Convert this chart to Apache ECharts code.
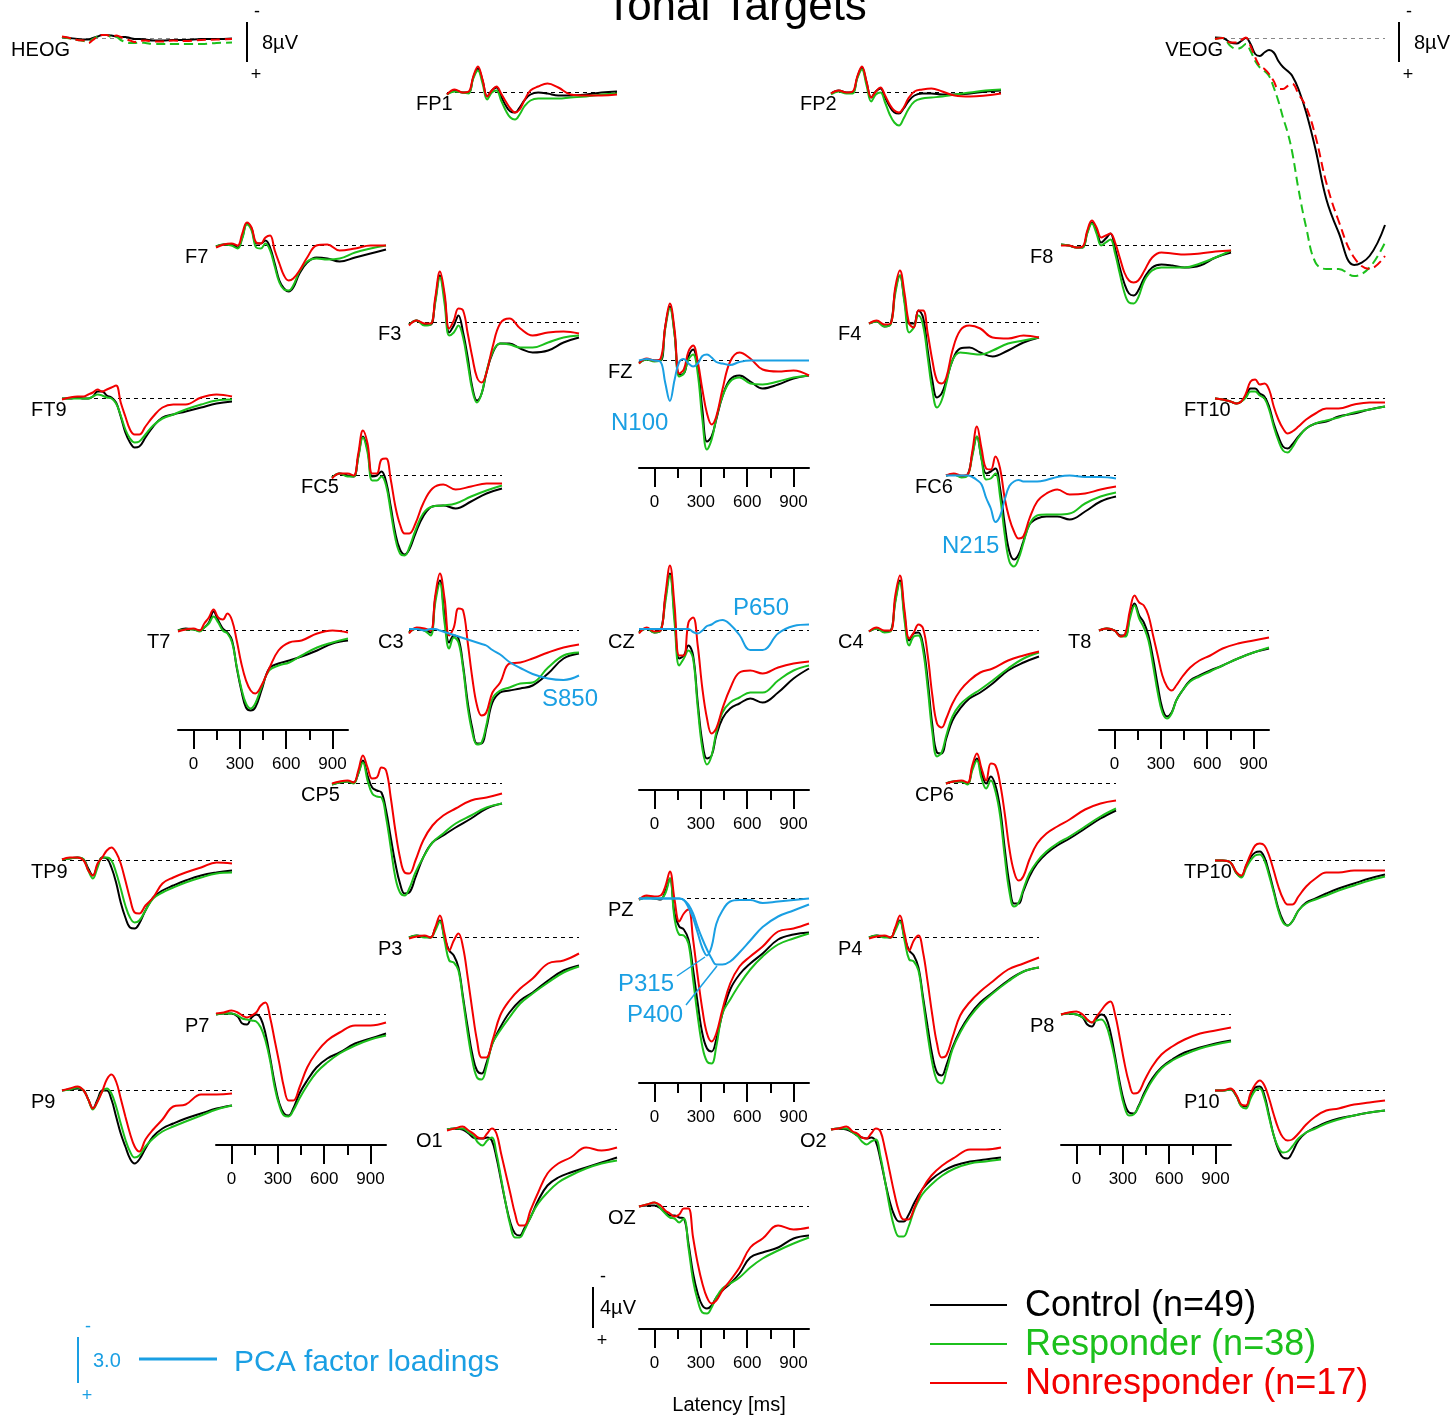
<!DOCTYPE html>
<html>
<head>
<meta charset="utf-8">
<script src="https://cdn.jsdelivr.net/npm/echarts@6/dist/echarts.min.js"></script>
<style>
  html, body { margin: 0; padding: 0; background: #fff; }
  #chart { width: 1456px; height: 1416px; }
</style>
</head>
<body>
<div id="chart"></div>
<script>
// sample latencies (ms) shared by every trace
const TIME_MS = [-100, -50, 0, 40, 70, 100, 130, 160, 190, 220, 250, 280, 310, 340, 370, 400, 440, 490, 550, 620, 700, 800, 900, 1000]

// grand averages in µV (negative up): [control, responder, nonresponder]
const FP1 = [
  [0.2, -0.2, 0, 0, -1.5, -2.4, -1.2, 0.4, -0.2, -0.5, 0.4, 1.3, 1.9, 2.0, 1.5, 0.8, 0.2, 0, 0.1, 0.3, 0.3, 0.2, 0, -0.1],
  [0.2, -0.1, 0, 0.1, -1.4, -2.2, -0.9, 0.7, 0, -0.2, 0.8, 1.8, 2.5, 2.7, 2.2, 1.4, 0.8, 0.6, 0.6, 0.6, 0.5, 0.4, 0.2, 0.1],
  [0.2, -0.3, 0, -0.1, -1.6, -2.6, -1.3, 0.4, -0.2, -0.6, 0.1, 0.9, 1.6, 2.0, 1.7, 0.8, -0.2, -0.6, -0.9, -0.5, 0.2, 0.3, 0.3, 0.2]
]
const FP2 = [
  [0.1, -0.2, 0, 0, -1.5, -2.5, -1.0, 0.5, -0.1, -0.4, 0.5, 1.4, 2.0, 2.1, 1.6, 0.9, 0.3, 0.1, 0.1, 0.2, 0.2, 0.1, -0.1, -0.2],
  [0.2, -0.1, 0.1, 0.1, -1.4, -2.3, -0.7, 0.9, 0.2, 0, 1.0, 2.2, 3.0, 3.3, 2.6, 1.7, 0.9, 0.6, 0.5, 0.4, 0.2, 0, -0.2, -0.3],
  [0.1, -0.2, 0, -0.1, -1.6, -2.6, -1.1, 0.5, -0.1, -0.5, 0.3, 1.2, 1.8, 2.0, 1.5, 0.6, -0.1, -0.3, -0.4, -0.1, 0.3, 0.4, 0.3, 0.1]
]
const F7 = [
  [0.1, -0.1, -0.1, 0.2, -0.8, -2.2, -1.7, -0.2, -0.2, -0.5, 0.2, 1.8, 3.5, 4.3, 4.6, 4.2, 2.8, 1.7, 1.2, 1.3, 1.6, 1.2, 0.8, 0.4],
  [0.1, -0.1, 0, 0.3, -0.7, -2.1, -1.5, 0.2, 0.3, -0.2, 0.5, 2.1, 3.7, 4.4, 4.5, 4.0, 2.6, 1.6, 1.3, 1.4, 1.3, 0.7, 0.3, 0],
  [0.2, -0.1, -0.2, 0, -1.2, -2.3, -1.8, -0.3, -0.2, -0.8, -1.0, 0.5, 1.8, 3.0, 3.5, 3.3, 2.5, 1.2, 0, -0.1, 0.5, 0.3, 0, 0]
]
const F8 = [
  [-0.1, 0, 0.2, 0.2, -1.3, -2.3, -1.5, -0.3, -0.7, -1.2, 0.3, 2.2, 3.8, 4.8, 5.0, 4.5, 3.2, 2.2, 1.9, 2.0, 2.2, 2.0, 1.2, 0.7],
  [-0.1, 0, 0.2, 0.2, -1.2, -2.2, -1.2, 0, -0.3, -0.6, 0.8, 2.8, 4.7, 5.7, 5.8, 5.2, 3.5, 2.5, 2.2, 2.2, 2.2, 1.8, 1.2, 0.5],
  [0, 0, 0.2, 0.1, -1.5, -2.5, -1.8, -0.8, -1.0, -1.2, -0.3, 1.2, 2.7, 3.5, 3.7, 3.5, 2.5, 1.2, 0.7, 0.8, 0.9, 0.8, 0.6, 0.5]
]
const F3 = [
  [0.2, -0.2, 0.2, 0.2, -2.2, -4.7, -2.5, 1.0, 0.3, -0.7, 1.0, 3.5, 6.5, 7.8, 7.1, 5.1, 3.1, 2.1, 2.1, 2.6, 3.0, 2.8, 2.0, 1.5],
  [0.2, -0.2, 0.3, 0.2, -2.0, -4.5, -1.9, 1.3, 1.0, 0.3, 1.5, 4.1, 6.8, 8.0, 7.1, 5.0, 3.0, 2.1, 2.2, 2.5, 2.5, 2.0, 1.5, 1.3],
  [0.3, -0.2, 0.1, 0.1, -2.5, -5.1, -2.9, 0.6, -0.2, -1.4, -1.2, 1.1, 3.5, 5.5, 6.0, 5.1, 2.5, 0.1, -0.4, 0.6, 1.3, 1.0, 0.9, 1.1]
]
const F4 = [
  [0.1, -0.1, 0.4, 0.1, -3.2, -4.7, -2.2, 0.1, 0.1, -1.2, -0.5, 2.8, 5.8, 7.5, 7.1, 5.8, 3.8, 2.6, 2.5, 3.0, 3.4, 2.8, 2.0, 1.5],
  [0.1, -0.1, 0.4, 0.2, -2.9, -4.7, -1.9, 1.0, 0.5, -0.7, 0.3, 3.5, 6.8, 8.5, 7.8, 6.1, 3.8, 3.0, 3.1, 3.2, 2.8, 2.1, 1.8, 1.5],
  [0.1, -0.2, 0.2, 0.1, -3.5, -5.2, -2.9, 0.1, 0.5, -1.2, -1.2, 1.1, 3.8, 5.8, 6.1, 5.5, 2.8, 0.8, 0.3, 0.6, 1.5, 1.6, 1.3, 1.5]
]
const FZ = [
  [0.2, -0.1, 0, 0, -3.4, -5.4, -2.7, 1.4, 1.3, -0.4, -1.1, 0.6, 4.9, 8.1, 7.6, 5.9, 3.6, 1.9, 1.5, 2.1, 2.8, 2.4, 1.8, 1.5],
  [0.3, -0.1, 0.1, 0, -3.2, -5.2, -2.6, 1.6, 1.3, -0.1, -0.6, 1.3, 5.9, 8.9, 7.9, 5.8, 3.6, 2.1, 1.7, 2.3, 2.4, 2.1, 1.7, 1.5],
  [0.3, -0.2, 0, -0.2, -3.4, -5.7, -3.1, 1.3, 0.9, -0.9, -1.5, 0.1, 2.9, 5.3, 6.4, 5.6, 2.9, 0.1, -0.8, -0.2, 0.9, 1.1, 1.0, 1.5]
]
const FT9 = [
  [0, 0, -0.1, 0, 0, -0.2, -0.7, -0.7, -0.3, -0.1, 0.4, 1.8, 3.4, 4.4, 4.9, 4.8, 3.9, 2.8, 1.9, 1.6, 1.3, 0.9, 0.5, 0.3],
  [0, 0, 0, 0, 0, -0.2, -0.4, -0.3, -0.1, 0, 0.5, 1.7, 3.1, 4.0, 4.4, 4.3, 3.6, 2.7, 2.0, 1.6, 1.1, 0.6, 0.2, 0.1],
  [0.1, -0.1, -0.2, -0.2, -0.4, -0.6, -0.9, -0.7, -0.9, -1.1, -1.3, 0.4, 1.8, 3.1, 3.6, 3.6, 2.8, 1.8, 0.9, 0.6, 0.6, -0.1, -0.4, -0.2]
]
const FT10 = [
  [0, 0.1, 0.3, 0.5, 0.3, -0.2, -1.0, -1.0, -0.5, -0.2, 0.8, 2.5, 3.8, 4.8, 5.0, 4.6, 3.8, 3.0, 2.5, 2.3, 1.8, 1.5, 1.1, 0.8],
  [0, 0.1, 0.3, 0.5, 0.3, -0.1, -0.7, -0.7, -0.3, 0, 1.1, 2.8, 4.2, 5.2, 5.4, 4.9, 3.9, 3.0, 2.5, 2.2, 1.9, 1.4, 1.1, 0.8],
  [0, 0.1, 0.3, 0.5, 0.3, -0.5, -1.7, -1.9, -1.4, -1.5, -0.9, 0.8, 2.1, 3.0, 3.5, 3.3, 2.8, 2.1, 1.5, 1.0, 1.0, 0.6, 0.4, 0.4]
]
const FC5 = [
  [0.2, -0.2, 0, 0.1, -1.9, -3.9, -2.6, 0.1, 0, -0.4, 0.6, 3.1, 5.8, 7.4, 7.9, 7.4, 5.8, 4.1, 3.1, 3.0, 3.3, 2.6, 1.8, 1.3],
  [0.2, -0.2, 0.1, 0.1, -1.8, -3.8, -2.3, 0.5, 0.5, 0.1, 1.0, 3.6, 6.3, 7.8, 8.0, 7.2, 5.5, 3.8, 3.1, 3.0, 2.8, 2.1, 1.5, 1.0],
  [0.3, -0.2, -0.2, 0, -2.2, -4.5, -3.2, -0.2, -0.2, -1.6, -1.7, 0.4, 3.1, 4.9, 5.8, 5.8, 4.8, 2.8, 1.3, 0.9, 1.4, 1.1, 0.8, 0.8]
]
const FC6 = [
  [0, -0.1, 0.1, -0.1, -2.1, -3.9, -1.7, -0.2, -0.4, -0.7, 1.3, 4.9, 7.6, 8.4, 7.9, 6.6, 4.9, 4.3, 4.1, 4.1, 4.4, 3.6, 2.6, 2.1],
  [0, -0.1, 0.2, 0, -1.9, -3.9, -1.6, 0.4, 0.3, -0.2, 2.1, 5.9, 8.6, 9.1, 8.3, 6.8, 4.9, 4.0, 3.9, 3.9, 3.8, 2.8, 2.1, 1.7],
  [0, -0.2, 0, -0.1, -2.4, -4.9, -2.7, -0.7, -0.6, -1.9, -0.7, 2.3, 4.3, 5.6, 6.3, 6.1, 4.3, 2.6, 1.8, 1.4, 1.9, 1.8, 1.4, 1.1]
]
const T7 = [
  [0, -0.2, -0.1, 0, -0.3, -0.8, -1.9, -1.0, -0.2, 0.2, 1.0, 3.7, 6.0, 7.7, 8.0, 7.7, 6.0, 3.8, 3.3, 3.0, 2.6, 2.0, 1.3, 1.0],
  [0, -0.1, -0.1, 0.1, -0.3, -0.7, -1.4, -0.8, 0, 0.3, 1.2, 3.6, 5.8, 7.3, 7.8, 7.3, 5.7, 4.0, 3.5, 3.2, 2.5, 1.7, 1.2, 0.8],
  [0.1, -0.1, -0.2, 0, -0.7, -1.3, -2.1, -1.3, -1.1, -1.7, -1.0, 1.0, 3.3, 5.0, 6.0, 6.3, 5.5, 3.8, 2.0, 1.2, 1.0, 0.3, 0, 0.2]
]
const C3 = [
  [0.2, -0.2, 0, 0.2, -3.2, -5.0, -1.5, 1.2, 0.5, 0.8, 3.5, 7.2, 9.8, 11.3, 11.3, 9.8, 7.2, 6.2, 6.0, 5.8, 5.5, 4.3, 2.8, 2.3],
  [0.2, -0.2, 0, 0.5, -2.8, -4.7, -0.8, 1.8, 0.7, 1.2, 3.8, 7.7, 10.2, 11.4, 11.2, 9.5, 6.8, 6.0, 5.7, 5.3, 5.2, 3.7, 2.5, 2.2],
  [0.3, -0.3, -0.2, 0, -3.5, -5.7, -3.2, 0.5, -0.3, -2.2, -2.0, 1.2, 4.8, 7.5, 8.5, 8.2, 6.2, 5.2, 3.3, 3.2, 2.8, 2.2, 1.7, 1.4]
]
const CZ = [
  [0.2, -0.2, 0.2, 0, -3.2, -5.7, -1.5, 2.8, 2.5, 1.5, 2.5, 7.2, 11.2, 12.8, 12.5, 10.5, 8.8, 7.8, 7.3, 6.8, 7.2, 6.2, 4.8, 3.8],
  [0.2, -0.2, 0.2, 0, -2.8, -5.5, -0.8, 3.5, 2.8, 2.0, 2.8, 7.7, 11.8, 13.4, 12.5, 10.2, 8.2, 7.2, 6.7, 6.2, 6.2, 5.0, 4.0, 3.5],
  [0.3, -0.3, 0.1, 0, -3.5, -6.5, -2.5, 2.5, 2.5, -0.8, -1.3, 1.5, 5.8, 8.8, 10.3, 9.8, 7.8, 5.8, 4.2, 4.0, 4.3, 3.7, 3.3, 3.1]
]
const C4 = [
  [0.1, -0.2, 0.1, 0, -3.0, -5.0, -1.5, 1.0, 0.3, 0.2, 1.5, 5.0, 9.5, 12.2, 12.3, 10.8, 9.0, 7.8, 6.8, 6.2, 5.3, 4.0, 3.2, 2.6],
  [0.1, -0.2, 0.2, 0.1, -2.8, -4.8, -1.0, 1.5, 0.6, 0.5, 2.0, 5.8, 10.2, 12.6, 12.2, 10.5, 8.6, 7.4, 6.6, 5.9, 5.0, 3.8, 2.8, 2.2],
  [0.1, -0.3, 0, 0, -3.5, -5.5, -2.0, 0.8, 0.2, -0.6, -0.2, 2.5, 6.5, 9.3, 9.7, 8.8, 7.3, 6.0, 5.0, 4.2, 3.8, 3.0, 2.5, 2.1]
]
const T8 = [
  [0, -0.2, 0, 0.5, 0.5, -1.5, -2.7, -1.5, -0.8, 0.5, 2.8, 5.5, 7.8, 8.6, 8.2, 7.0, 6.0, 5.0, 4.5, 4.0, 3.5, 2.8, 2.2, 1.8],
  [0, -0.2, 0, 0.6, 0.6, -1.2, -2.5, -1.2, -0.3, 1.0, 3.5, 6.2, 8.2, 8.8, 8.3, 7.0, 6.0, 5.1, 4.6, 4.1, 3.5, 2.8, 2.2, 1.7],
  [0, -0.2, 0, 0.6, 0.3, -2.0, -3.5, -2.8, -2.5, -1.5, 0.5, 2.5, 4.5, 5.6, 6.0, 5.5, 4.6, 3.7, 3.0, 2.5, 1.8, 1.3, 1.0, 0.7]
]
const CP5 = [
  [0.1, -0.1, -0.2, -0.1, -1.0, -2.3, -0.8, 0.4, 0.7, 0.9, 2.7, 5.4, 8.0, 10.0, 11.0, 10.9, 9.4, 7.4, 5.9, 5.2, 4.4, 3.5, 2.5, 2.0],
  [0.1, -0.1, -0.2, 0, -1.0, -2.1, -0.3, 1.0, 1.3, 1.4, 3.4, 6.4, 9.4, 10.9, 11.2, 10.5, 8.9, 7.4, 5.9, 5.0, 4.0, 3.2, 2.4, 2.0],
  [0, -0.2, -0.3, -0.1, -1.3, -2.8, -1.6, -0.5, -0.6, -1.6, -1.3, 1.4, 4.7, 7.4, 8.9, 9.0, 7.7, 5.7, 4.2, 3.2, 2.5, 1.7, 1.4, 1.0]
]
const CP6 = [
  [0, -0.2, -0.2, 0, -1.5, -2.5, -1.0, 0, -0.7, 0.2, 2.5, 6.5, 10.0, 12.0, 12.0, 10.8, 9.3, 8.0, 7.0, 6.2, 5.5, 4.5, 3.5, 2.7],
  [0, -0.2, -0.2, 0.1, -1.3, -2.3, -0.5, 0.5, -0.3, 0.8, 3.2, 7.3, 10.8, 12.3, 11.9, 10.6, 9.0, 7.8, 6.8, 6.0, 5.3, 4.3, 3.3, 2.5],
  [0, -0.2, -0.3, -0.1, -1.8, -3.0, -1.5, -0.3, -2.0, -1.8, 0, 3.0, 6.5, 8.8, 9.7, 9.3, 7.6, 6.0, 5.0, 4.3, 3.6, 2.6, 2.0, 1.7]
]
const TP9 = [
  [-0.1, -0.2, -0.3, -0.1, 0.8, 1.5, 0.5, -0.3, -0.2, 0.7, 2.2, 4.2, 5.7, 6.7, 6.8, 6.3, 5.0, 3.7, 3.0, 2.5, 2.0, 1.5, 1.2, 1.0],
  [-0.1, -0.2, -0.3, -0.1, 1.0, 1.8, 0.7, -0.3, -0.3, 0, 1.2, 2.8, 4.5, 5.7, 6.2, 6.0, 5.0, 3.8, 3.2, 2.7, 2.2, 1.7, 1.3, 1.2],
  [-0.1, -0.3, -0.3, 0, 1.0, 1.5, 0.3, -0.3, -1.0, -1.3, -0.8, 0.3, 2.0, 3.8, 5.2, 5.3, 4.5, 3.7, 2.3, 1.7, 1.2, 0.7, 0.2, 0.3]
]
const TP10 = [
  [0, 0, 0.2, 1.3, 1.6, 0.6, -0.3, -0.8, -0.9, -0.3, 1.2, 3.0, 4.8, 6.0, 6.5, 6.1, 5.0, 4.2, 3.8, 3.3, 2.8, 2.3, 1.8, 1.4],
  [0, 0, 0.2, 1.3, 1.7, 0.8, 0, -0.5, -0.6, 0, 1.5, 3.2, 5.0, 6.2, 6.5, 6.1, 5.0, 4.3, 3.9, 3.5, 3.0, 2.5, 2.0, 1.6],
  [0, 0, 0.2, 1.2, 1.5, 0.5, -0.6, -1.5, -1.7, -1.5, -0.5, 1.0, 2.6, 3.8, 4.4, 4.4, 3.6, 2.6, 1.8, 1.2, 1.2, 1.0, 1.0, 1.0]
]
const PZ = [
  [0.1, -0.1, 0, 0.1, -0.7, -2.0, 1.5, 2.8, 3.1, 4.1, 7.1, 10.5, 13.5, 15.0, 15.3, 14.1, 11.5, 9.1, 7.6, 6.5, 5.5, 4.1, 3.6, 3.4],
  [0.1, -0.1, 0, 0, -0.5, -2.0, 2.0, 3.6, 3.7, 4.5, 8.1, 11.8, 14.8, 16.3, 16.5, 14.8, 11.5, 10.1, 8.6, 7.1, 5.8, 4.6, 4.0, 3.5],
  [0.1, -0.3, -0.2, -0.3, -1.2, -2.7, 0.1, 2.3, 1.5, 1.1, 4.1, 7.8, 11.1, 13.5, 14.3, 13.5, 11.1, 8.5, 6.8, 5.8, 4.8, 3.3, 3.0, 2.5]
]
const P3 = [
  [0, -0.2, -0.1, 0, -0.9, -1.7, 0, 1.3, 1.8, 3.0, 6.0, 9.0, 11.7, 13.3, 13.6, 12.6, 10.6, 9.0, 7.5, 6.3, 5.5, 4.3, 3.3, 2.8],
  [0, -0.2, 0, 0, -0.7, -1.6, 0.3, 2.3, 2.5, 3.3, 6.3, 9.6, 12.3, 14.0, 14.2, 13.0, 10.6, 9.3, 8.0, 6.6, 5.6, 4.5, 3.5, 2.9],
  [0.1, -0.1, -0.2, 0, -1.0, -2.2, -0.4, 1.3, 0.3, -0.4, 1.0, 4.0, 7.3, 10.3, 12.0, 12.0, 10.3, 7.8, 6.3, 5.1, 4.1, 2.6, 2.3, 1.6]
]
const P4 = [
  [0, -0.2, -0.1, 0, -0.9, -1.7, 0, 1.3, 1.8, 3.0, 6.0, 9.0, 11.8, 13.5, 13.8, 12.8, 11.0, 9.3, 7.8, 6.5, 5.5, 4.3, 3.4, 3.0],
  [0, -0.2, 0, 0, -0.7, -1.6, 0.3, 2.2, 2.4, 3.3, 6.4, 9.8, 12.6, 14.3, 14.6, 13.4, 11.2, 9.5, 8.0, 6.7, 5.6, 4.4, 3.4, 3.0],
  [0.1, -0.1, -0.2, 0, -1.0, -2.2, -0.4, 1.3, 0.3, -0.2, 1.5, 4.5, 7.8, 10.6, 12.0, 11.8, 10.0, 7.8, 6.5, 5.4, 4.4, 3.2, 2.6, 2.0]
]
const P7 = [
  [0, -0.1, -0.1, 0.2, 0.9, 1.0, 0.3, 0, 0.4, 1.9, 4.3, 6.9, 8.9, 9.9, 10.1, 9.4, 7.9, 6.6, 5.3, 4.4, 3.8, 2.9, 2.4, 1.9],
  [0, -0.1, -0.1, 0.1, 0.4, 0.5, 0.6, 0.7, 1.3, 2.6, 4.6, 7.3, 9.1, 10.1, 10.2, 9.6, 8.4, 7.1, 5.8, 4.8, 3.9, 3.1, 2.5, 2.1],
  [-0.1, -0.2, -0.4, -0.2, 0.1, 0.3, 0.1, -0.2, -0.9, -1.2, 0.3, 2.6, 4.9, 7.3, 8.6, 8.6, 7.3, 5.3, 3.8, 2.6, 1.8, 1.1, 1.1, 0.8]
]
const P8 = [
  [0, -0.1, 0, 0.3, 1.0, 1.2, 0.4, 0, 0.3, 1.8, 4.2, 6.8, 8.8, 9.8, 9.9, 9.2, 7.8, 6.4, 5.3, 4.5, 3.8, 3.3, 2.9, 2.6],
  [0, -0.1, 0, 0.3, 0.6, 0.8, 0.6, 0.5, 1.0, 2.5, 4.6, 7.2, 9.2, 10.1, 10.0, 9.3, 8.0, 6.6, 5.4, 4.6, 4.0, 3.4, 3.0, 2.7],
  [0, -0.2, -0.3, 0, 0.5, 0.8, 0.2, -0.4, -1.0, -1.3, 0, 2.3, 4.8, 6.8, 7.9, 7.8, 6.6, 5.2, 4.0, 3.2, 2.5, 1.9, 1.6, 1.3]
]
const P9 = [
  [0, -0.1, -0.2, 0, 0.9, 1.8, 0.9, 0, 0, 0.9, 2.6, 4.3, 5.6, 6.8, 7.3, 6.9, 5.8, 4.6, 3.8, 3.3, 2.8, 2.3, 1.8, 1.5],
  [0, -0.1, -0.3, 0, 0.9, 1.9, 1.1, 0.1, -0.2, 0.3, 1.6, 3.3, 4.9, 6.1, 6.7, 6.5, 5.6, 4.8, 4.1, 3.6, 3.1, 2.5, 1.9, 1.5],
  [0, -0.2, -0.4, 0, 0.9, 1.8, 1.1, 0.1, -1.1, -1.6, -0.9, 0.8, 2.6, 4.3, 5.6, 6.1, 4.9, 3.9, 2.9, 1.6, 1.4, 0.4, 0.4, 0.3]
]
const P10 = [
  [0, 0, -0.1, 0.6, 1.5, 1.6, 0.5, -0.3, -0.4, 0.5, 2.5, 4.5, 5.9, 6.7, 6.8, 6.2, 5.0, 4.2, 3.7, 3.2, 2.8, 2.5, 2.2, 2.0],
  [0, 0, -0.1, 0.6, 1.6, 1.8, 0.8, 0, -0.2, 0.8, 2.7, 4.5, 5.7, 6.2, 6.1, 5.6, 4.8, 4.2, 3.8, 3.3, 2.9, 2.5, 2.2, 2.0],
  [0, 0, -0.2, 0.5, 1.4, 1.5, 0.3, -0.6, -1.0, -0.5, 0.8, 2.4, 3.8, 4.7, 5.0, 4.9, 4.3, 3.4, 2.6, 2.0, 1.8, 1.4, 1.2, 1.0]
]
const O1 = [
  [0, -0.1, 0, 0.4, 0.8, 0.9, 0.9, 0.8, 1.1, 2.8, 5.1, 7.4, 9.3, 10.4, 10.6, 9.9, 8.8, 7.1, 5.6, 4.8, 4.3, 3.8, 3.3, 2.8],
  [0, -0.1, -0.1, 0.3, 0.6, 1.3, 1.6, 1.1, 0.8, 2.4, 4.9, 7.4, 9.6, 10.8, 10.8, 10.1, 8.8, 7.4, 6.3, 5.3, 4.6, 3.9, 3.4, 3.1],
  [0.1, -0.1, -0.3, 0.1, 0.4, 0.8, 0.9, 0.4, -0.1, 0.4, 2.4, 4.4, 6.4, 8.4, 9.6, 9.6, 8.1, 6.3, 4.4, 3.4, 2.8, 1.8, 2.1, 1.8]
]
const O2 = [
  [0, -0.1, 0, 0.3, 0.6, 0.8, 0.9, 0.8, 1.2, 3.0, 5.2, 7.2, 8.6, 9.2, 9.2, 8.6, 7.3, 6.0, 5.0, 4.2, 3.6, 3.2, 3.0, 2.8],
  [0, -0.1, -0.1, 0.3, 0.6, 1.2, 1.5, 1.2, 1.0, 2.7, 5.2, 7.8, 9.8, 10.7, 10.7, 9.8, 8.0, 6.5, 5.5, 4.6, 3.9, 3.4, 3.2, 3.0],
  [0, -0.1, -0.3, 0.2, 0.4, 0.8, 0.9, 0.4, -0.1, 0.2, 2.0, 4.2, 6.4, 8.2, 9.0, 9.0, 7.8, 6.0, 4.6, 3.6, 2.8, 2.0, 2.0, 1.8]
]
const OZ = [
  [0, -0.1, -0.1, 0.2, 0.6, 0.9, 0.9, 1.1, 1.2, 3.7, 6.7, 8.7, 9.9, 10.2, 9.9, 9.1, 8.4, 7.7, 6.7, 5.1, 4.6, 4.1, 3.2, 2.9],
  [0, -0.2, -0.4, 0.2, 0.7, 1.1, 1.2, 1.6, 1.2, 4.1, 7.4, 9.4, 10.6, 10.7, 10.1, 9.1, 8.2, 7.7, 7.1, 6.1, 5.2, 4.4, 3.7, 3.1],
  [0, -0.2, -0.4, -0.1, 0.4, 0.7, 1.0, 0.8, 0.2, 0.2, 3.1, 5.7, 7.7, 9.1, 9.7, 9.4, 8.4, 7.4, 6.1, 4.1, 3.2, 1.9, 2.3, 2.1]
]
// eye channels, µV on a coarser scale
const HEOG = [
  [-0.3, -0.1, 0.1, 0.2, 0.2, -0.1, -0.4, -0.7, -0.7, -0.6, -0.4, -0.3, -0.3, -0.1, 0.1, 0.1, 0.2, 0.4, 0.4, 0.3, 0.3, 0.1, 0.1, 0],
  [-0.3, 0, 0.3, 0.5, 0.6, 0.1, -0.4, -0.7, -0.7, -0.3, -0.3, 0.3, 0.7, 0.9, 0.9, 0.8, 0.9, 1.1, 1.1, 1.1, 1.1, 1.1, 0.9, 0.8],
  [-0.4, -0.1, 0.3, 0.4, 0.9, 0.3, -0.4, -0.7, -0.7, -0.4, -0.6, -0.3, 0.1, 0.4, 0.7, 0.5, 0.4, 0.6, 0.6, 0.4, 0.5, 0.3, 0.2, 0.1]
]
const VEOG = [
  [-0.2, -0.1, 0.8, 1.0, 0.5, -0.1, 1.1, 3.1, 3.5, 2.8, 2.3, 2.8, 4.5, 5.7, 6.5, 7.5, 10.1, 14.8, 22.1, 32.1, 38.8, 45.3, 43.5, 37.3],
  [0.1, -0.1, 1.5, 2.1, 1.8, 1.1, 2.5, 4.5, 5.8, 6.5, 7.5, 9.8, 12.5, 15.8, 18.8, 22.8, 30.1, 37.8, 44.8, 46.1, 46.1, 47.5, 45.8, 40.8],
  [0.1, -0.1, 0.8, 0.8, 0.3, -0.2, 1.5, 3.8, 5.5, 6.1, 7.1, 8.5, 10.1, 10.1, 9.5, 9.1, 11.1, 13.7, 19.5, 28.8, 36.5, 43.8, 46.1, 43.5]
]
// PCA factor loadings
const N100 = [0, -0.1, 0, 0.1, 1.5, 2.7, 1.3, 0.1, -0.1, 0.2, 0.4, 0.2, -0.3, -0.4, -0.2, 0.1, 0.2, 0.3, 0.1, 0, 0, 0, 0, 0]
const N215 = [0, 0, 0, 0, 0.1, 0.3, 0.6, 1.5, 2.2, 3.1, 2.7, 1.6, 0.7, 0.4, 0.3, 0.4, 0.4, 0.4, 0.3, 0.1, 0, 0.1, 0.1, 0.2]
const P650 = [-0.1, -0.1, -0.1, -0.1, -0.1, -0.1, -0.1, -0.1, -0.1, -0.1, 0.1, 0.2, 0, -0.3, -0.4, -0.6, -0.7, -0.4, 0.3, 1.3, 1.3, 0.2, -0.3, -0.4]
const S850 = [-0.1, -0.1, 0, -0.1, -0.1, 0, 0.1, 0.2, 0.3, 0.4, 0.5, 0.6, 0.7, 0.8, 0.9, 1.0, 1.3, 1.6, 2.1, 2.5, 2.9, 3.2, 3.3, 3.0]
const P315 = [0, 0, 0, 0, 0, 0, 0, 0, 0.1, 0.6, 1.3, 2.3, 3.3, 3.8, 3.2, 1.7, 0.8, 0.2, 0.1, 0.1, 0.3, 0.2, 0.1, 0]
const P400 = [0, 0, 0, 0, 0, 0, 0, 0, 0.1, 0.4, 1.0, 1.9, 2.7, 3.4, 4.0, 4.4, 4.4, 4.2, 3.6, 2.8, 1.9, 1.2, 0.8, 0.4]

const TICKS_MAJOR = [0, 300, 600, 900]
const TICKS_MINOR = [150, 450, 750]
const GROUPS = ['Control (n=49)', 'Responder (n=38)', 'Nonresponder (n=17)']

// layout: [label, data, left x of the -100 ms point, y of the 0 µV line]
const PANELS = [
  ['FP1', FP1, 447, 92], ['FP2', FP2, 831, 92],
  ['F7', F7, 216, 245], ['F8', F8, 1061, 245],
  ['F3', F3, 409, 322], ['F4', F4, 869, 322], ['FZ', FZ, 639, 360],
  ['FT9', FT9, 62, 398], ['FT10', FT10, 1215, 398],
  ['FC5', FC5, 332, 475], ['FC6', FC6, 946, 475],
  ['T7', T7, 178, 630], ['C3', C3, 409, 630], ['CZ', CZ, 639, 630], ['C4', C4, 869, 630], ['T8', T8, 1099, 630],
  ['CP5', CP5, 332, 783], ['CP6', CP6, 946, 783],
  ['TP9', TP9, 62, 860], ['TP10', TP10, 1215, 860],
  ['PZ', PZ, 639, 898], ['P3', P3, 409, 937], ['P4', P4, 869, 937],
  ['P7', P7, 216, 1014], ['P8', P8, 1061, 1014],
  ['P9', P9, 62, 1090], ['P10', P10, 1215, 1090],
  ['O1', O1, 447, 1129], ['O2', O2, 831, 1129], ['OZ', OZ, 639, 1206]
]
const PCA = [
  ['FZ', N100, 'N100', 611, 423], ['FC6', N215, 'N215', 942, 546], ['CZ', P650, 'P650', 733, 608],
  ['C3', S850, 'S850', 542, 699], ['PZ', P315, 'P315', 618, 984], ['PZ', P400, 'P400', 627, 1015]
]
const AXES = [[639, 468], [178, 730], [1099, 730], [639, 790], [639, 1083], [216, 1145], [1061, 1145], [639, 1329]]

const W = 1456
const H = 1416
const FONT = '"Liberation Sans", Arial, Helvetica, sans-serif'
const COLORS = ['#000000', '#1cc01c', '#f20000']
const BLUE = '#1a9fe3'

const grids = []
const xAxis = []
const yAxis = []
const series = []
const graphic = []

const txt = (text, x, y, size, color = '#000', align = 'left') => ({
  type: 'text', x, y, z: 20, silent: true,
  style: { text, fill: color, font: `${size}px ${FONT}`, align, verticalAlign: 'middle' }
})
const seg = (x1, y1, x2, y2, color = '#000', w = 2) => ({
  type: 'line', z: 20, silent: true, shape: { x1, y1, x2, y2 }, style: { stroke: color, lineWidth: w }
})

// one grid per electrode, kept inside the canvas so it is never squeezed
const addPanel = (x0, y0, pxPerUnit) => {
  const zero = y0 + 0.5
  const top = Math.max(0, zero - 150)
  const bottom = Math.min(H, zero + 300)
  const gi = grids.length
  grids.push({ left: x0, top, width: 170, height: bottom - top, containLabel: false, outerBoundsMode: 'none' })
  xAxis.push({ gridIndex: gi, type: 'value', min: -100, max: 1000, show: false })
  const p = { gi, xi: xAxis.length - 1, up: zero - top, down: bottom - zero }
  p.yi = addY(p, pxPerUnit)
  return p
}
const addY = (p, pxPerUnit) => {
  yAxis.push({ gridIndex: p.gi, type: 'value', inverse: true, min: -p.up / pxPerUnit, max: p.down / pxPerUnit, show: false })
  return yAxis.length - 1
}
const addTrace = (xi, yi, values, color, dashed, z = 3) => {
  series.push({
    type: 'line', xAxisIndex: xi, yAxisIndex: yi, smooth: 0.4, symbol: 'none', silent: true, z,
    data: TIME_MS.map((t, k) => [t, values[k]]),
    lineStyle: { color, width: 2, type: dashed ? [9, 5] : 'solid' }
  })
}
const addZeroLine = (xi, yi, color) => {
  series.push({
    type: 'line', xAxisIndex: xi, yAxisIndex: yi, symbol: 'none', silent: true, z: 2,
    data: [[-100, 0], [1000, 0]], lineStyle: { color, width: 1, type: [4, 4] }
  })
}

const panelAxes = {}
PANELS.forEach(([name, data, x0, y0]) => {
  const p = addPanel(x0, y0, 10)
  panelAxes[name] = p
  addZeroLine(p.xi, p.yi, '#000')
  data.forEach((vals, k) => addTrace(p.xi, p.yi, vals, COLORS[k], false, 3 + k))
  graphic.push(txt(name, x0 - 31, y0 + 12, 20))
})

// PCA loadings share the electrode grid, 15 px per unit
PCA.forEach(([name, vals, label, lx, ly]) => {
  const p = panelAxes[name]
  addTrace(p.xi, addY(p, 15), vals, BLUE, false, 7)
  graphic.push(txt(label, lx, ly, 24, BLUE))
})
graphic.push(seg(677, 976, 705, 957, BLUE, 1.5))
graphic.push(seg(686, 1005, 717, 966, BLUE, 1.5))

// eye channels at 5 px per µV; black solid, groups dashed
;[['HEOG', HEOG, 62, 38], ['VEOG', VEOG, 1215, 38]].forEach(([name, data, x0, y0]) => {
  const p = addPanel(x0, y0, 5)
  addZeroLine(p.xi, p.yi, '#888')
  data.forEach((vals, k) => addTrace(p.xi, p.yi, vals, COLORS[k], k > 0, 3 + k))
  graphic.push(txt(name, x0 + 8, y0 + 12, 20, '#000', 'right'))
})

// time axes: one grid for the long labelled ticks, one for the short ones
AXES.forEach(([x0, y]) => {
  [[TICKS_MAJOR, 19, true], [TICKS_MINOR, 10, false]].forEach(([vals, len, major]) => {
    const gi = grids.length
    grids.push({ left: x0, top: y - 10, width: 170, height: 10, containLabel: false, outerBoundsMode: 'none' })
    xAxis.push({
      gridIndex: gi, type: 'value', position: 'bottom', min: -100, max: 1000,
      axisLine: { show: major, lineStyle: { color: '#000', width: 2 } },
      axisTick: { show: true, customValues: vals, length: len, lineStyle: { color: '#000', width: 2 } },
      axisLabel: { show: major, customValues: vals, margin: 26, fontSize: 17, color: '#000', fontFamily: FONT },
      splitLine: { show: false }
    })
    yAxis.push({ gridIndex: gi, type: 'value', min: 0, max: 1, show: false })
  })
})

// scale bars
const scaleBar = (x, y1, y2, label, color, gap) => {
  graphic.push(seg(x, y1, x, y2, color, 2))
  graphic.push(txt('-', x + 7, y1 - 10, 18, color))
  graphic.push(txt('+', x + 9, y2 + 13, 18, color, 'center'))
  graphic.push(txt(label, x + gap, (y1 + y2) / 2 + 1, 20, color))
}
scaleBar(247, 22, 62, '8µV', '#000', 15)
scaleBar(1399, 22, 62, '8µV', '#000', 15)
scaleBar(593, 1287, 1328, '4µV', '#000', 7)
scaleBar(78, 1337, 1383, '3.0', BLUE, 15)
graphic.push(seg(139, 1359, 217, 1359, BLUE, 3))
graphic.push(txt('PCA factor loadings', 234, 1363, 30, BLUE))

// group legend
GROUPS.forEach((g, k) => {
  const y = 1305 + k * 39
  graphic.push(seg(930, y, 1007, y, COLORS[k], 2))
  graphic.push(txt(g, 1025, y + 1, 36, COLORS[k]))
})

graphic.push(txt('Latency [ms]', 729, 1405, 20, '#000', 'center'))
graphic.push(txt('Tonal Targets', 736, 8, 44, '#000', 'center'))

const chart = echarts.init(document.getElementById('chart'), null, { renderer: 'canvas', width: W, height: H })
chart.setOption({
  animation: false,
  backgroundColor: '#fff',
  textStyle: { fontFamily: FONT },
  grid: grids,
  xAxis,
  yAxis,
  series,
  graphic
})
</script>
</body>
</html>
